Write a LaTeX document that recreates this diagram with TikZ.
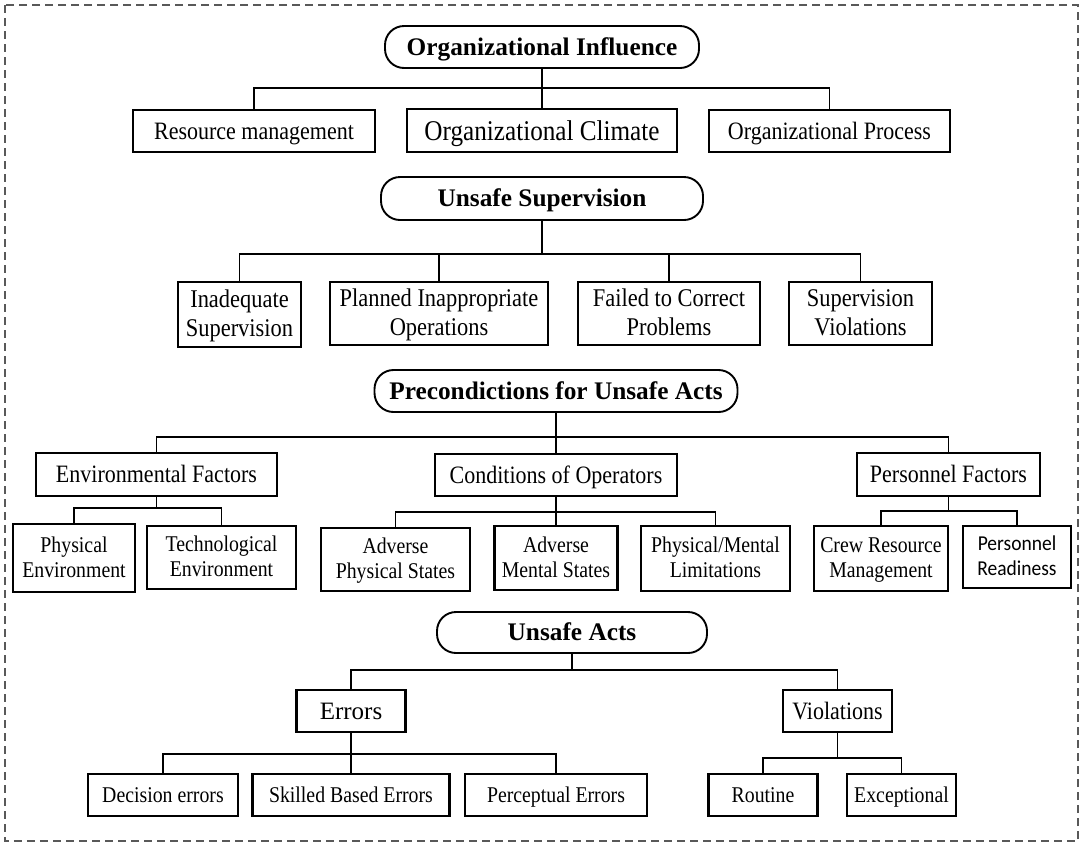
\documentclass[tikz,border=0pt]{standalone}
\usepackage{fontspec}
\setmainfont{Liberation Serif}
\newfontfamily\rs{Liberation Serif}[FakeStretch=0.88]
\newfontfamily\carl{Carlito}[FakeStretch=0.92]
\begin{document}
\begin{tikzpicture}[x=1pt,y=-1pt,
  every node/.style={execute at begin node={\rule{0pt}{0.75em}}, text depth=2pt},
  box/.style={draw, line width=2.1pt, inner sep=0pt, align=center, fill=white},
  head/.style={draw, line width=1.9pt, rounded corners=19pt, inner sep=0pt, fill=white,
    font=\fontsize{25.3}{28}\selectfont\bfseries},
  conn/.style={line width=1.8pt},
  fnorm/.style={font=\rs\fontsize{25}{28.5}\selectfont},
  fsmall/.style={font=\rs\fontsize{22.5}{25}\selectfont},
  ftwo/.style={font=\rs\fontsize{25.5}{29}\selectfont}]
\useasboundingbox (0,0) rectangle (1084,847);
\draw[black!65, line width=1.1pt, dash pattern=on 8pt off 5pt] (5,5) rectangle (1078,841);

% headers
\node[head, minimum width=314, minimum height=42] (oi) at (542,47) {Organizational Influence};
\node[head, minimum width=322, minimum height=43] (us) at (542,198.5) {Unsafe Supervision};
\node[head, minimum width=363, minimum height=42] (pc) at (556,391) {Precondictions for Unsafe Acts};
\node[head, minimum width=270, minimum height=41] (ua) at (572,632.5) {Unsafe Acts};

% level 1
\node[box, fnorm, minimum width=242, minimum height=42] (rm) at (254,131) {Resource management};
\node[box, font=\rs\fontsize{28.6}{32}\selectfont, minimum width=270, minimum height=43] (oc) at (542,130.5) {Organizational Climate};
\node[box, fnorm, minimum width=241, minimum height=42] (op) at (829.5,131) {Organizational Process};

% level 2
\node[box, ftwo, minimum width=123, minimum height=65] (is) at (239.5,314.5) {Inadequate\\Supervision};
\node[box, ftwo, minimum width=218, minimum height=63] (pio) at (439,313.5) {Planned Inappropriate\\Operations};
\node[box, ftwo, minimum width=182, minimum height=63] (fcp) at (669,313.5) {Failed to Correct\\Problems};
\node[box, ftwo, minimum width=143, minimum height=63] (sv) at (860.5,313.5) {Supervision\\Violations};

% level 3
\node[box, fnorm, minimum width=241, minimum height=43] (ef) at (156.5,474.5) {Environmental Factors};
\node[box, fnorm, minimum width=242, minimum height=42] (co) at (556,475) {Conditions of Operators};
\node[box, fnorm, minimum width=183, minimum height=43] (pf) at (948.5,474.5) {Personnel Factors};

% level 4
\node[box, fsmall, minimum width=122.5, minimum height=68] (pe) at (74,558) {Physical\\Environment};
\node[box, fsmall, minimum width=149, minimum height=63] (te) at (221.5,557.5) {Technological\\Environment};
\node[box, fsmall, minimum width=149, minimum height=63] (aps) at (395.5,559.5) {Adverse\\Physical States};
\node[box, fsmall, minimum width=123, minimum height=64] (ams) at (556,558) {Adverse\\Mental States};
\node[box, fsmall, minimum width=149, minimum height=65] (pml) at (715.5,558.5) {Physical/Mental\\Limitations};
\node[box, fsmall, minimum width=134.5, minimum height=65] (crm) at (881,558.5) {Crew Resource\\Management};
\node[box, font=\carl\fontsize{21.2}{25}\selectfont, minimum width=108.5, minimum height=62] (prd) at (1017,557) {Personnel\\Readiness};

% level 5
\node[box, font=\fontsize{25}{28}\selectfont, minimum width=109, minimum height=42] (err) at (351,711) {Errors};
\node[box, fnorm, minimum width=109, minimum height=42] (vio) at (837.5,711) {Violations};
\node[box, fsmall, minimum width=149.5, minimum height=42] (de) at (163,795) {Decision errors};
\node[box, fsmall, minimum width=197, minimum height=42] (sbe) at (351,795) {Skilled Based Errors};
\node[box, fsmall, minimum width=182, minimum height=42] (per) at (556,795) {Perceptual Errors};
\node[box, fsmall, minimum width=109, minimum height=42] (rou) at (763,795) {Routine};
\node[box, fsmall, minimum width=109, minimum height=42] (exc) at (901.5,795) {Exceptional};

% bus coordinates
\coordinate (b1) at (542,88);
\coordinate (b2) at (542,254);
\coordinate (b3) at (556,437);
\coordinate (b4a) at (156,508);
\coordinate (b4b) at (556,512);
\coordinate (b4c) at (948,511);
\coordinate (b5) at (572,670);
\coordinate (b6a) at (351,754);
\coordinate (b6b) at (837,758);

% connectors
\draw[conn] (oi.south) -- (oc.north);
\draw[conn] (rm.north) -- (rm.north |- b1) -- (op.north |- b1) -- (op.north);

\draw[conn] (us.south) -- (b2);
\draw[conn] (is.north) -- (is.north |- b2) -- (sv.north |- b2) -- (sv.north);
\draw[conn] (pio.north) -- (pio.north |- b2);
\draw[conn] (fcp.north) -- (fcp.north |- b2);

\draw[conn] (pc.south) -- (co.north);
\draw[conn] (ef.north) -- (ef.north |- b3) -- (pf.north |- b3) -- (pf.north);

\draw[conn] (ef.south) -- (ef.south |- b4a);
\draw[conn] (pe.north) -- (pe.north |- b4a) -- (te.north |- b4a) -- (te.north);
\draw[conn] (co.south) -- (ams.north);
\draw[conn] (aps.north) -- (aps.north |- b4b) -- (pml.north |- b4b) -- (pml.north);
\draw[conn] (pf.south) -- (pf.south |- b4c);
\draw[conn] (crm.north) -- (crm.north |- b4c) -- (prd.north |- b4c) -- (prd.north);

\draw[conn] (ua.south) -- (ua.south |- b5);
\draw[conn] (err.north) -- (err.north |- b5) -- (vio.north |- b5) -- (vio.north);

\draw[conn] (err.south) -- (sbe.north);
\draw[conn] (de.north) -- (de.north |- b6a) -- (per.north |- b6a) -- (per.north);
\draw[conn] (vio.south) -- (vio.south |- b6b);
\draw[conn] (rou.north) -- (rou.north |- b6b) -- (exc.north |- b6b) -- (exc.north);
\end{tikzpicture}
\end{document}
